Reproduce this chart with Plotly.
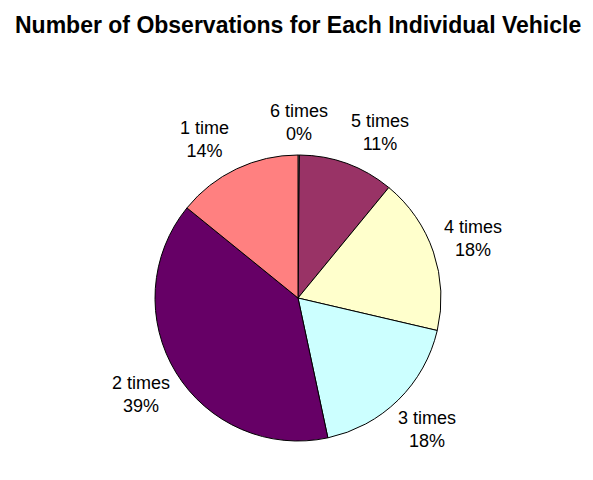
import math
import plotly.graph_objects as go

categories = ["6 times", "5 times", "4 times", "3 times", "2 times", "1 time"]
values = [0.15, 10.8, 17.7, 18.0, 39.2, 14.15]
shown_pct = ["0%", "11%", "18%", "18%", "39%", "14%"]
colors = ["#FFFFFF", "#993366", "#FFFFCC", "#CCFFFF", "#660066", "#FF8080"]

W, H = 593, 480
cx, cy, r = 298, 298, 143
dom_x = [(cx - r) / W, (cx + r) / W]
dom_y = [1 - (cy + r) / H, 1 - (cy - r) / H]

fig = go.Figure(go.Pie(
    labels=categories,
    values=values,
    marker=dict(colors=colors, line=dict(color="#000000", width=1)),
    sort=False,
    direction="clockwise",
    rotation=0,
    textinfo="none",
    hoverinfo="label+percent",
    domain=dict(x=dom_x, y=dom_y),
    showlegend=False,
))

# label angles derived from slice mid-angles, with a minimum angular gap
total = sum(values)
cum = 0.0
angles = []
for v in values:
    angles.append((cum + v / 2) / total * 360.0)
    cum += v
min_gap = 30.0
if angles[1] - angles[0] < min_gap:
    angles[1] = angles[0] + min_gap * 0.87
if (angles[0] + 360) - angles[-1] < min_gap:
    angles[-1] = angles[0] + 360 - min_gap * 1.03

annotations = []
for i, (cat, pct, a) in enumerate(zip(categories, shown_pct, angles)):
    mid = math.radians(a)
    rr = r * (1.23 if i == 0 else 1.29)
    lx = cx + rr * math.sin(mid)
    ly = cy - rr * math.cos(mid)
    annotations.append(dict(
        x=lx / W, y=1 - ly / H, xref="paper", yref="paper",
        text=f"{cat}<br>{pct}", showarrow=False,
        font=dict(family="Liberation Sans, Arial, sans-serif", size=18, color="#000000"),
        xanchor="center", yanchor="middle", align="center",
    ))

annotations.append(dict(
    x=298 / W, y=1 - 25 / H, xref="paper", yref="paper",
    text="<b>Number of Observations for Each Individual Vehicle</b>", showarrow=False,
    font=dict(family="Liberation Sans, Arial, sans-serif", size=23, color="#000000"),
    xanchor="center", yanchor="middle",
))

fig.update_layout(
    width=W, height=H,
    margin=dict(l=0, r=0, t=0, b=0),
    paper_bgcolor="#FFFFFF",
    plot_bgcolor="#FFFFFF",
    annotations=annotations,
)

fig.write_html("out.html")
